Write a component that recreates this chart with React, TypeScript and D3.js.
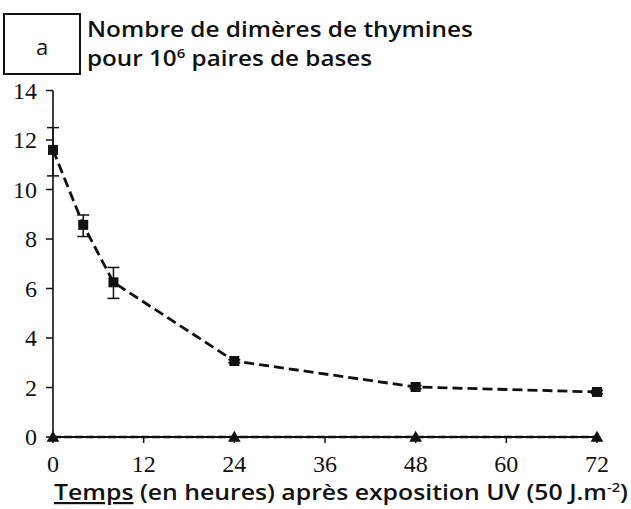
import React from "react";
import * as d3 from "d3";

const times = [0, 4, 8, 24, 48, 72];
const dimers = [11.6, 8.57, 6.25, 3.07, 2.02, 1.82];
const errLow = [10.55, 8.1, 5.6, 3.0, 1.95, 1.75];
const errHigh = [12.5, 8.97, 6.85, 3.12, 2.08, 1.88];
const controlTimes = [0, 24, 48, 72];
const controlValues = [0, 0, 0, 0];
const xTicks = [0, 12, 24, 36, 48, 60, 72];
const yTicks = [0, 2, 4, 6, 8, 10, 12, 14];

export default function App() {
  const W = 631, H = 509;
  const x = d3.scaleLinear().domain([0, 72]).range([53, 597]);
  const y = d3.scaleLinear().domain([0, 14]).range([437, 90.5]);
  const line = d3.line<number>().x((d, i) => x(times[i])).y((d) => y(d));
  const ctrlLine = d3.line<number>().x((d, i) => x(controlTimes[i])).y((d) => y(d));
  const serifFont = "Times New Roman, Liberation Serif, DejaVu Serif, serif";
  const sans = "Open Sans, Liberation Sans, sans-serif";
  return (
    <svg width={W} height={H} style={{ position: "absolute", left: 0, top: 0, background: "#fff" }}>
      <rect x={0} y={0} width={W} height={H} fill="#fff" />
      {/* panel label */}
      <rect x={4} y={14} width={76} height={60} fill="none" stroke="#111" strokeWidth={2} />
      <text x={42} y={55} textAnchor="middle" fontFamily={sans} fontSize={22} fill="#111">a</text>
      <text x={87} y={37} fontFamily={sans} fontWeight={600} fontSize={21} fill="#111" textLength={386} lengthAdjust="spacingAndGlyphs">Nombre de dimères de thymines</text>
      <text x={87} y={66} fontFamily={sans} fontWeight={600} fontSize={21} fill="#111" textLength={285} lengthAdjust="spacingAndGlyphs">
        pour 10<tspan fontSize={13} dy={-8}>6</tspan><tspan dy={8}> paires de bases</tspan>
      </text>
      {/* y axis */}
      <line x1={x(0)} x2={x(0)} y1={y(14)} y2={y(0)} stroke="#111" strokeWidth={1.6} />
      {yTicks.map((t) => (
        <g key={"y" + t}>
          <line x1={x(0) - 7} x2={x(0)} y1={y(t)} y2={y(t)} stroke="#111" strokeWidth={1.5} />
          <text x={37} y={y(t) + 8} textAnchor="end" fontFamily={serifFont} fontSize={24} fill="#111">{t}</text>
        </g>
      ))}
      {/* x axis */}
      <line x1={x(0)} x2={x(72)} y1={y(0)} y2={y(0)} stroke="#111" strokeWidth={2} />
      {xTicks.map((t) => (
        <g key={"x" + t}>
          <line x1={x(t)} x2={x(t)} y1={y(0)} y2={y(0) + 6} stroke="#111" strokeWidth={1.5} />
          <text x={x(t)} y={472} textAnchor="middle" fontFamily={serifFont} fontSize={24} fill="#111">{t}</text>
        </g>
      ))}
      {/* control series along zero */}
      <path d={ctrlLine(controlValues) || ""} fill="none" stroke="#111" strokeWidth={2.5} strokeDasharray="8 3" />
      {controlTimes.map((t, i) => (
        <path key={"tri" + t} d={d3.symbol(d3.symbolTriangle, 70)() || ""} transform={`translate(${x(t)},${y(controlValues[i]) + 1})`} fill="#111" />
      ))}
      {/* main series */}
      <path d={line(dimers) || ""} fill="none" stroke="#111" strokeWidth={2.8} strokeDasharray="10 5" />
      {times.map((t, i) => (
        <g key={"e" + t}>
          <line x1={x(t)} x2={x(t)} y1={y(errLow[i])} y2={y(errHigh[i])} stroke="#111" strokeWidth={1.5} />
          <line x1={x(t) - 6} x2={x(t) + 6} y1={y(errLow[i])} y2={y(errLow[i])} stroke="#111" strokeWidth={1.5} />
          <line x1={x(t) - 6} x2={x(t) + 6} y1={y(errHigh[i])} y2={y(errHigh[i])} stroke="#111" strokeWidth={1.5} />
          <rect x={x(t) - 5} y={y(dimers[i]) - 5} width={10} height={10} fill="#111" />
        </g>
      ))}
      {/* x axis title */}
      <text x={54} y={500} fontFamily={sans} fontWeight={600} fontSize={22} fill="#111" textLength={574} lengthAdjust="spacingAndGlyphs">
        <tspan textDecoration="underline">Temps</tspan> (en heures) après exposition UV (50 J.m<tspan fontSize={13} dy={-8}>-2</tspan><tspan dy={8}>)</tspan>
      </text>
    </svg>
  );
}
